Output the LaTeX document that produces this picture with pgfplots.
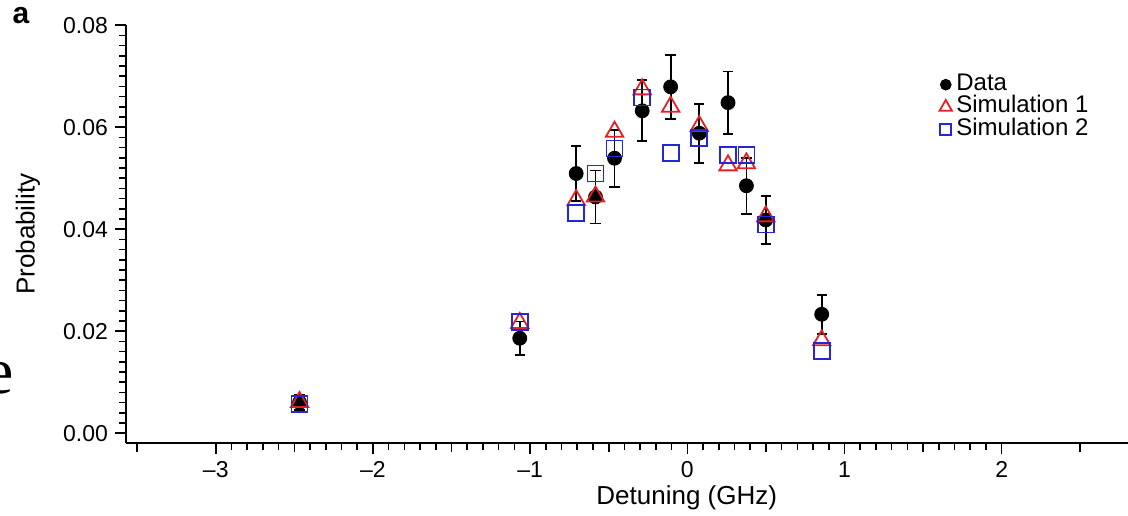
\documentclass[border=0pt]{standalone}
\usepackage{pgfplots}
\pgfplotsset{compat=1.18}
\usepackage{fontspec}
\setmainfont{Liberation Sans}
\newfontfamily\seriffont{Liberation Serif}
\definecolor{simred}{RGB}{228,32,36}
\definecolor{simblue}{RGB}{38,38,212}
\pgfplotsset{
  legmark/.style={legend image code/.code={\draw[##1,mark size=#1] plot coordinates {(0.15cm,0cm)};}}
}
\begin{document}
\begin{tikzpicture}
\useasboundingbox (0,0) rectangle (564pt,257.5pt);
\node[font=\bfseries\fontsize{15}{15}\selectfont, inner sep=0pt] at (10.5pt,249.5pt) {a};
\node[font=\seriffont\fontsize{33}{33}\selectfont, anchor=base east, inner sep=0pt] at (7pt,61pt) {e};
\begin{axis}[
  at={(63pt,35.85pt)}, anchor=south west,
  scale only axis, width=501.5pt, height=209.1pt,
  xmin=-3.571, xmax=2.81, ymin=-0.002, ymax=0.08,
  axis x line*=bottom, axis y line*=left,
  axis line style={line width=0.9pt, -},
  xtick={-3,-2,-1,0,1,2},
  xticklabels={–3,–2,–1,0,1,2},
  minor x tick num=9,
  extra x ticks={-3.5,-2.5,-1.5,-0.5,0.5,1.5,2.5},
  extra x tick labels={},
  extra x tick style={major tick length=4.5pt},
  ytick={0,0.02,0.04,0.06,0.08},
  yticklabels={0.00,0.02,0.04,0.06,0.08},
  scaled y ticks=false,
  minor ytick={0.002,0.004,...,0.0785},
  major tick length=5.5pt, minor tick length=3.5pt,
  tick align=outside,
  tick style={line width=0.8pt, black},
  minor tick style={line width=0.8pt, black},
  tick label style={font=\fontsize{11.5}{12}\selectfont},
  xlabel={Detuning (GHz)},
  ylabel={Probability},
  every axis x label/.style={at={(axis description cs:0.5591,0)}, yshift=-27pt, anchor=center, font=\fontsize{13}{13}\selectfont},
  every axis y label/.style={at={(axis description cs:0,0.5)}, xshift=-49pt, rotate=90, anchor=center, font=\fontsize{13}{13}\selectfont},
  legend style={at={(axis cs:1.602,0.0706)}, anchor=north west, draw=none, fill=none,
    font=\fontsize{12}{12}\selectfont, inner sep=0pt,
    nodes={inner ysep=0pt, inner xsep=2.2pt, text height=8.5pt, text depth=2.75pt}},
  legend cell align=left,
  clip=false,
]
\addplot[only marks, mark=*, mark size=3.5pt, black, legmark=2.7pt,
  error bars/.cd, y dir=both, y explicit,
  error bar style={line width=0.9pt, black},
  error mark options={rotate=90, mark size=2.6pt, line width=0.9pt, black}]
coordinates {
(-2.467,0.0060) +- (0,0.0015)
(-1.066,0.0186) +- (0,0.0033)
(-0.707,0.0509) +- (0,0.0054)
(-0.584,0.0463) +- (0,0.0052)
(-0.463,0.0539) +- (0,0.0056)
(-0.287,0.0632) +- (0,0.0060)
(-0.106,0.0679) +- (0,0.0063)
(0.076,0.0588) +- (0,0.0058)
(0.259,0.0648) +- (0,0.0061)
(0.376,0.0485) +- (0,0.0055)
(0.499,0.0418) +- (0,0.0047)
(0.855,0.0233) +- (0,0.0038)
};
\addlegendentry{Data}
\addplot[only marks, mark=triangle, mark size=5pt, simred, mark options={line width=0.9pt}, legmark=3.6pt]
coordinates {
(-2.467,0.0061) (-1.066,0.0216) (-0.707,0.0457) (-0.584,0.0464) (-0.463,0.0591)
(-0.287,0.0674) (-0.106,0.0640) (0.076,0.0602) (0.259,0.0525) (0.376,0.0529)
(0.499,0.0425) (0.855,0.0182)
};
\addlegendentry{Simulation 1}
\addplot[only marks, mark=square, mark size=4pt, simblue, mark options={line width=0.9pt}, legmark=2.7pt]
coordinates {
(-2.467,0.0057) (-1.066,0.0218) (-0.707,0.0432) (-0.584,0.0509) (-0.463,0.0558)
(-0.287,0.0658) (-0.106,0.0550) (0.076,0.0578) (0.259,0.0545) (0.376,0.0546)
(0.499,0.0409) (0.855,0.0161)
};
\addlegendentry{Simulation 2}
\end{axis}
\end{tikzpicture}
\end{document}
